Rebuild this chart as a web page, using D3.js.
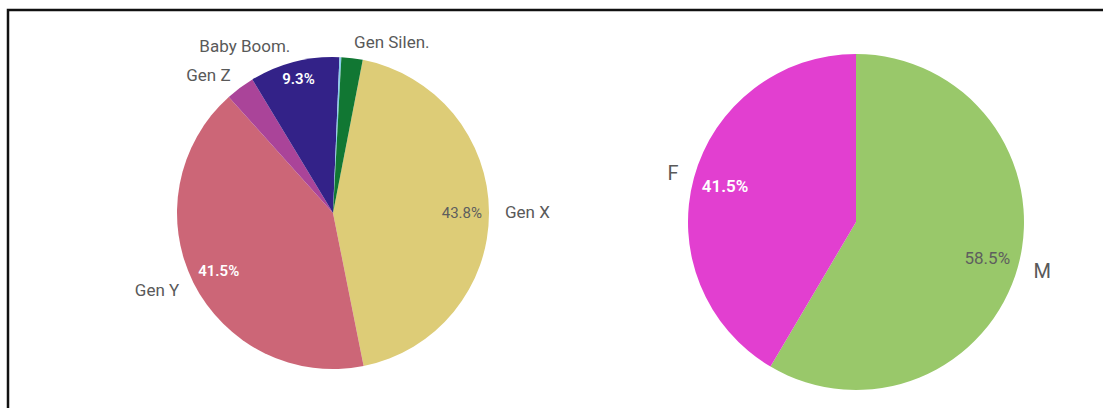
<!DOCTYPE html>
<html>
<head>
<meta charset="utf-8">
<script src="https://cdn.jsdelivr.net/npm/d3@7"></script>
<style>
  body { margin: 0; background: #fff; }
  svg text { font-family: Roboto, "Open Sans", sans-serif; }
</style>
</head>
<body>
<div id="chart"></div>
<script>
// generations pie
const genNames = ["Gen X", "Gen Y", "Gen Z", "Baby Boom.", "Other", "Gen Silen."];
const genLabels = ["Gen X", "Gen Y", "Gen Z", "Baby Boom.", "", "Gen Silen."];
const genValues = [43.8, 41.5, 3.0, 9.3, 0.2, 2.2];
const genColors = ["#ddcc77", "#cc6677", "#aa4499", "#332288", "#88ccee", "#117733"];
const genPctColors = ["#5e5e5e", "#ffffff", "#ffffff", "#ffffff", "#ffffff", "#ffffff"];

// gender pie
const sexNames = ["M", "F"];
const sexValues = [58.5, 41.5];
const sexColors = ["#99c86a", "#e23fd0"];
const sexPctColors = ["#5e5e5e", "#ffffff"];

const width = 1103, height = 408;

const svg = d3.select("#chart").append("svg")
  .attr("width", width)
  .attr("height", height);

// frame of the screenshot
svg.append("rect")
  .attr("x", 8).attr("y", 10)
  .attr("width", 1200).attr("height", 600)
  .attr("fill", "none")
  .attr("stroke", "#111")
  .attr("stroke-width", 2.5);

function drawPie(opts) {
  let g = svg.append("g")
    .attr("transform", "translate(" + opts.cx + "," + opts.cy + ")");

  let data = opts.values.map((v, i) => ({name: opts.names[i], label: opts.labels[i], value: v, i: i}));

  let pie = d3.pie()
    .sort(null)
    .value(d => d.value)
    .startAngle(opts.start)
    .endAngle(opts.start + 2 * Math.PI);

  let arc = d3.arc().innerRadius(0).outerRadius(opts.r);
  let arcs = pie(data);

  g.selectAll("path.slice")
    .data(arcs)
    .enter()
    .append("path")
    .attr("class", "slice")
    .attr("d", arc)
    .attr("fill", d => opts.colors[d.data.i]);

  // category labels outside
  g.selectAll("text.name")
    .data(arcs.filter(d => d.data.label !== ""))
    .enter()
    .append("text")
    .attr("class", "name")
    .each(function (d) {
      let a = (d.startAngle + d.endAngle) / 2;
      let rr = opts.r + opts.labelGap;
      let x = Math.sin(a) * rr, y = -Math.cos(a) * rr;
      d3.select(this)
        .attr("x", x).attr("y", y)
        .attr("dy", "0.35em")
        .style("text-anchor", Math.sin(a) < 0 ? "end" : "start");
    })
    .style("font-size", opts.labelSize + "px")
    .style("fill", "#595959")
    .text(d => d.data.label);

  // percent labels inside, pushed toward the rim
  g.selectAll("text.pct")
    .data(arcs.filter(d => d.data.value >= 5))
    .enter()
    .append("text")
    .attr("class", "pct")
    .style("font-size", opts.pctSize + "px")
    .style("font-weight", d => opts.pctColors[d.data.i] === "#ffffff" ? 600 : 400)
    .style("fill", d => opts.pctColors[d.data.i])
    .style("text-anchor", "middle")
    .attr("dy", "0.35em")
    .text(d => d.data.value.toFixed(1) + "%")
    .each(function (d) {
      let a = (d.startAngle + d.endAngle) / 2;
      let bb = this.getBBox();
      let ext = Math.abs(Math.sin(a)) * bb.width / 2 + Math.abs(Math.cos(a)) * bb.height * 0.35;
      let rr = opts.r - opts.pctInset - ext;
      d3.select(this)
        .attr("x", Math.sin(a) * rr)
        .attr("y", -Math.cos(a) * rr);
    });
}

drawPie({
  cx: 333, cy: 213, r: 156,
  start: 11 * Math.PI / 180,
  names: genNames, labels: genLabels, values: genValues,
  colors: genColors, pctColors: genPctColors,
  labelGap: 16, labelSize: 17, pctSize: 15, pctInset: 7
});

drawPie({
  cx: 856, cy: 222, r: 168,
  start: 0,
  names: sexNames, labels: sexNames, values: sexValues,
  colors: sexColors, pctColors: sexPctColors,
  labelGap: 16, labelSize: 20, pctSize: 17, pctInset: 8
});
</script>
</body>
</html>
